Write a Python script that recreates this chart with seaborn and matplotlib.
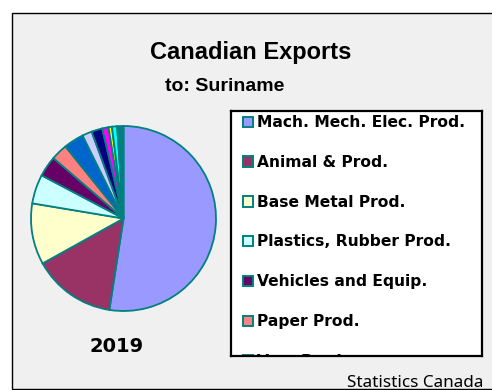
import matplotlib
matplotlib.use("Agg")
import matplotlib.pyplot as plt
from matplotlib.patches import Rectangle
import seaborn as sns

# Export shares by product group (percent of total)
categories = [
    "Mach. Mech. Elec. Prod.", "Animal & Prod.", "Base Metal Prod.",
    "Plastics, Rubber Prod.", "Vehicles and Equip.", "Paper Prod.",
    "Veg. Prod.", "Chemical Prod.", "Foodstuffs", "Wood Prod.",
    "Textile Prod.", "Mineral Prod.", "Misc. Manuf.",
]
shares = [52.5, 14.5, 10.7, 5.1, 3.6, 2.9, 3.5, 1.7, 1.9, 1.1, 0.6, 0.9, 1.1]
slice_colors = [
    "#9999FF", "#993366", "#FFFFCC", "#CCFFFF", "#660066", "#FF8080",
    "#0066CC", "#CCCCFF", "#000080", "#FF00FF", "#FFFF00", "#00FFFF", "#008080",
]
legend_count = 7  # rows that fit in the legend box (last one runs off its edge)
title = "Canadian Exports"
subtitle = "to: Suriname"
year = "2019"
source = "Statistics Canada"

sns.set_theme(style="white")
plt.rcParams["font.family"] = ["DejaVu Sans"]
plt.rcParams["text.color"] = "black"

W, H = 492, 390
fig = plt.figure(figsize=(W / 100, H / 100), dpi=100)
fig.patch.set_facecolor("white")


def fx(x):
    return x / W


def fy(y):
    return 1 - y / H


# gray chart area with thin black frame
fig.add_artist(Rectangle((fx(12), fy(389)), (W + 20 - 12) / W, (389 - 13) / H,
                         transform=fig.transFigure, facecolor="#F0F0F0",
                         edgecolor="black", linewidth=1.0, zorder=-5))

# pie
palette = sns.color_palette(slice_colors)
pax = fig.add_axes([fx(31), fy(311), 185 / W, 185 / H])
pax.pie(shares, colors=palette, startangle=90, counterclock=False,
        wedgeprops=dict(edgecolor="#008080", linewidth=1.3))
pax.set_xlim(-1.0, 1.0)
pax.set_ylim(-1.0, 1.0)
pax.set_aspect("equal")
pax.axis("off")

# legend box (the last row is clipped at the bottom edge)
lx0, ly0, lx1, ly1 = 231, 111, 482, 356
lax = fig.add_axes([fx(lx0), fy(ly1), (lx1 - lx0) / W, (ly1 - ly0) / H])
lax.set_xlim(0, lx1 - lx0)
lax.set_ylim(ly1 - ly0, 0)
lax.set_facecolor("white")
lax.set_xticks([])
lax.set_yticks([])
for sp in lax.spines.values():
    sp.set_visible(True)
    sp.set_color("black")
    sp.set_linewidth(1.6)
    sp.set_zorder(10)

for i, (lab, col) in enumerate(zip(categories[:legend_count],
                                   palette[:legend_count])):
    yc = 11 + i * 39.8
    lax.add_patch(Rectangle((11.5, yc - 5.5), 10.5, 10.5, facecolor=col,
                            edgecolor="#008080", linewidth=1.4, clip_on=True))
    lax.text(26, yc + 0.5, lab, ha="left", va="center", fontsize=11.2,
             fontweight="bold", family="DejaVu Sans", color="black",
             clip_on=True)

# titles and captions
fig.text(fx(251), fy(59.5), title, ha="center", va="baseline", fontsize=17,
         fontweight="bold", family="Liberation Sans", color="black")
fig.text(fx(224.5), fy(90.7), subtitle, ha="center", va="baseline",
         fontsize=14, fontweight="bold", family="Liberation Sans",
         color="black")
fig.text(fx(117), fy(351.7), year, ha="center", va="baseline", fontsize=14,
         fontweight="bold", family="DejaVu Sans", color="black")
fig.text(fx(483), fy(386.7), source, ha="right", va="baseline",
         fontsize=12.3, family="Noto Sans", color="black")

fig.savefig("out.png", dpi=100)
